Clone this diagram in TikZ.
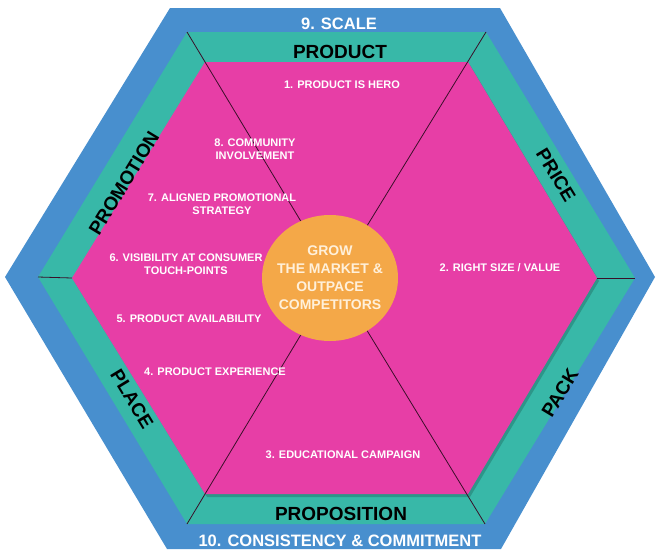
\documentclass[tikz,border=0pt]{standalone}
\usepackage{fontspec}
\setmainfont{Liberation Sans}
\usetikzlibrary{positioning}
\usetikzlibrary{shapes.geometric}

\definecolor{rimblue}{RGB}{72,143,206}
\definecolor{bandteal}{RGB}{56,184,168}
\definecolor{corepink}{RGB}{231,62,166}
\definecolor{huborange}{RGB}{244,168,72}
\definecolor{hubtext}{RGB}{255,240,218}

\tikzset{
	every node/.style = {font=\bfseries, inner sep=0pt},
	rim/.style = {text=white, font=\fontsize{16.5}{18}\selectfont\bfseries},
	band/.style = {text=black, font=\fontsize{19}{21}\selectfont\bfseries},
	item/.style = {text=white, align=center, font=\fontsize{11}{13}\selectfont\bfseries},
	spoke/.style = {draw=black!75!corepink, line width=0.8pt}
}

\begin{document}
\begin{tikzpicture}[x=1pt, y=-1pt]
		\useasboundingbox (0,0) rectangle (658,552);
		% corners of the three rings
		\foreach \n/\x/\y in {1/170/8, 2/500/8, 3/655/277, 4/501/549, 5/167/549, 6/5/277}
			\coordinate (b\n) at (\x,\y);
		\foreach \n/\x/\y in {1/187/32, 2/486/32, 3/635/278, 4/485/524, 5/187/524, 6/38/277}
			\coordinate (t\n) at (\x,\y);
		\foreach \n/\x/\y in {1/205/62, 2/468/62, 3/597/278, 4/468/494, 5/205/494, 6/72/278}
			\coordinate (m\n) at (\x,\y);
		\coordinate (mid) at (335,278);
		
		% rings
		\fill[rimblue] (b1) -- (b2) -- (b3) -- (b4) -- (b5) -- (b6) -- cycle;
		\fill[bandteal] (t1) -- (t2) -- (t3) -- (t4) -- (t5) -- (t6) -- cycle;
		\fill[black, opacity=0.18] ([shift={(2,3)}]m1) -- ([shift={(2,3)}]m2) -- ([shift={(2,3)}]m3)
			-- ([shift={(2,3)}]m4) -- ([shift={(2,3)}]m5) -- ([shift={(2,3)}]m6) -- cycle;
		\fill[corepink] (m1) -- (m2) -- (m3) -- (m4) -- (m5) -- (m6) -- cycle;
		
		% spokes
		\foreach \n in {1, 2, 4, 5}
			\draw[spoke] (mid) -- (t\n);
		\draw[spoke] (m3) -- (t3);
		\draw[spoke] (m6) -- (t6);
		
		% hub
		\node[ellipse, fill=huborange, minimum width=136pt, minimum height=126pt] (hub) at (330,278) {};
		\node[text=hubtext, align=center, font=\fontsize{14}{18}\selectfont\bfseries]
			(grow) at (hub) {GROW\\THE MARKET \&\\OUTPACE\\COMPETITORS};
		
		% outer ring
		\node[rim] (scale) at (339,24) {9. SCALE};
		\node[rim] (consistency) at (340,541) {10. CONSISTENCY \& COMMITMENT};
		
		% middle ring
		\node[band] (product) at (340,52) {PRODUCT};
		\node[band] (proposition) at (341,514) {PROPOSITION};
		\node[band, rotate=58.7] (promotion) at (124,183) {PROMOTION};
		\node[band, rotate=-58.7] (price) at (556,175) {PRICE};
		\node[band, rotate=-58.7] (place) at (132,399) {PLACE};
		\node[band, rotate=58.7] (pack) at (560,393) {PACK};
		
		% inner items
		\node[item] (hero) at (342,85) {1. PRODUCT IS HERO};
		\node[item] (size) at (500,268) {2. RIGHT SIZE / VALUE};
		\node[item] (campaign) at (343,455) {3. EDUCATIONAL CAMPAIGN};
		\node[item] (experience) at (215,372) {4. PRODUCT EXPERIENCE};
		\node[item] (availability) at (189,319) {5. PRODUCT AVAILABILITY};
		\node[item] (visibility) at (186,264) {6. VISIBILITY AT CONSUMER\\TOUCH-POINTS};
		\node[item] (aligned) at (222,204) {7. ALIGNED PROMOTIONAL\\STRATEGY};
		\node[item] (community) at (255,149) {8. COMMUNITY\\INVOLVEMENT};
	\end{tikzpicture}
\end{document}
